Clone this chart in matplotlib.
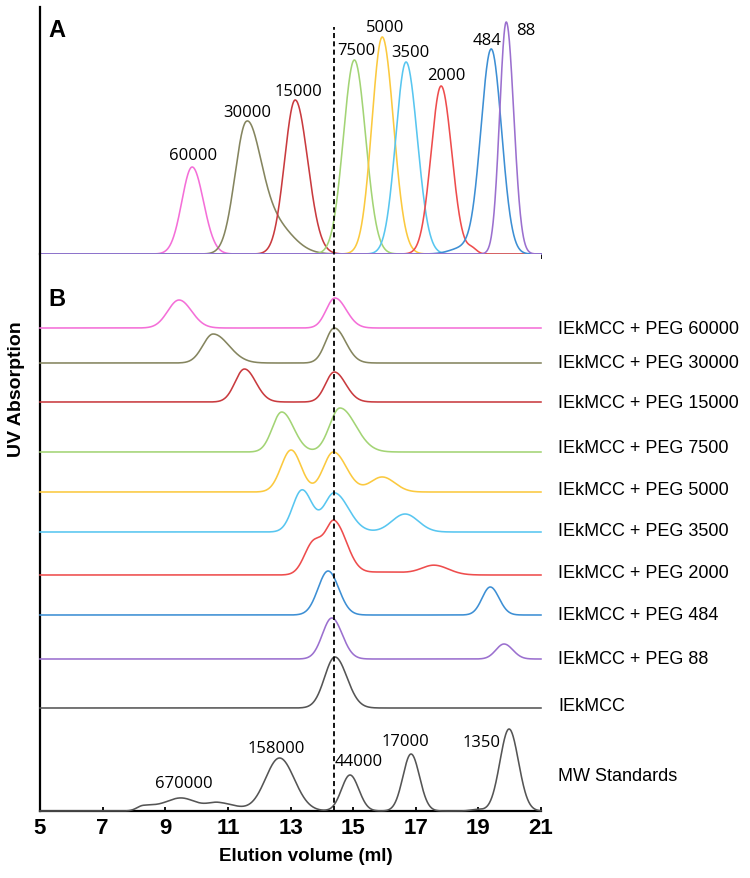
import numpy as np
import matplotlib.pyplot as plt

# elution volume axis (ml)
x_ticks = [5, 7, 9, 11, 13, 15, 17, 19, 21]
ref_volume = 14.4  # dashed line through the IEkMCC peak

# peaks are (centre ml, height, sigma left, sigma right), heights in arbitrary units
peg_names = ["60000", "30000", "15000", "7500", "5000", "3500", "2000", "484", "88"]
peg_colors = ["#f46fd8", "#85855f", "#c93b3f", "#a3d475", "#fbc93f",
              "#58c6f0", "#ee4d4d", "#3d8fd4", "#9b70cf"]

# panel A - PEG standards alone
a_60000 = [(9.86, 87, 0.33, 0.36)]
a_30000 = [(11.58, 122, 0.36, 0.45), (12.45, 30, 0.6, 0.6)]
a_15000 = [(13.15, 154, 0.34, 0.40)]
a_7500 = [(15.04, 194, 0.35, 0.36)]
a_5000 = [(15.93, 217, 0.33, 0.36)]
a_3500 = [(16.69, 192, 0.33, 0.36)]
a_2000 = [(17.81, 168, 0.32, 0.34), (18.80, 5, 0.15, 0.15)]
a_484 = [(19.41, 205, 0.33, 0.33), (18.50, 6, 0.4, 0.3)]
a_88 = [(19.89, 232, 0.21, 0.24)]

# panel B - IEkMCC mixed with each PEG, plus MW standards
b_names = ["IEkMCC + PEG 60000", "IEkMCC + PEG 30000", "IEkMCC + PEG 15000",
           "IEkMCC + PEG 7500", "IEkMCC + PEG 5000", "IEkMCC + PEG 3500",
           "IEkMCC + PEG 2000", "IEkMCC + PEG 484", "IEkMCC + PEG 88",
           "IEkMCC", "MW Standards"]
b_colors = peg_colors + ["#555555", "#555555"]
b_60000 = [(9.44, 28, 0.36, 0.40), (14.42, 30, 0.28, 0.36)]
b_30000 = [(10.53, 29, 0.33, 0.50), (14.40, 35, 0.28, 0.36)]
b_15000 = [(11.53, 33, 0.30, 0.36), (14.40, 30, 0.28, 0.36)]
b_7500 = [(12.72, 40, 0.30, 0.38), (14.58, 44, 0.33, 0.50)]
b_5000 = [(13.02, 42, 0.32, 0.32), (14.37, 40, 0.32, 0.42), (15.93, 15, 0.38, 0.40)]
b_3500 = [(13.37, 42, 0.30, 0.32), (14.40, 39, 0.32, 0.45), (16.66, 18, 0.42, 0.42)]
b_2000 = [(13.75, 33, 0.30, 0.32), (14.42, 50, 0.27, 0.38), (16.0, 3, 1.0, 1.0),
          (17.60, 9, 0.40, 0.45)]
b_484 = [(14.20, 44, 0.32, 0.34), (19.38, 28, 0.26, 0.28)]
b_88 = [(14.32, 41, 0.30, 0.33), (19.82, 15, 0.26, 0.28)]
b_ie = [(14.42, 51, 0.33, 0.38)]
b_mw = [(8.30, 5, 0.20, 0.40), (9.50, 13, 0.50, 0.50), (10.70, 8, 0.35, 0.55),
        (12.65, 53, 0.45, 0.47), (14.90, 36, 0.27, 0.28), (16.85, 57, 0.26, 0.27),
        (18.95, 1.5, 0.2, 0.2), (19.98, 82, 0.29, 0.30)]
mw_labels = ["670000", "158000", "44000", "17000", "1350"]
mw_label_peaks = [9.50, 12.65, 14.90, 16.85, 19.98]

# stacking of panel B traces (baseline heights) and right-hand label heights
b_offset = [483, 448, 409, 359, 319, 279, 236, 196, 152, 103, 0]
b_label_y = [483, 448, 409, 363, 321, 280, 238, 197, 152, 105, 35]

a_traces = [a_60000, a_30000, a_15000, a_7500, a_5000, a_3500, a_2000, a_484, a_88]
b_traces = [b_60000, b_30000, b_15000, b_7500, b_5000, b_3500, b_2000,
            b_484, b_88, b_ie, b_mw]

# label nudges in pixels (dx, dy) relative to peak top
a_label_shift = [(1, 12), (1, 10), (3, 9), (2, 10), (3, 10), (4, 10), (5, 11), (-4, 9), (20, -8)]
mw_label_shift = [(3, 15), (-3, 10), (9, 14), (-6, 13), (-28, -13)]


def trace(x, peaks):
    y = np.zeros_like(x)
    for c, h, sl, sr in peaks:
        s = np.where(x < c, sl, sr)
        y += h * np.exp(-0.5 * ((x - c) / s) ** 2)
    return y


x = np.linspace(5, 21, 1601)
px = 72 / 100  # points per pixel

fig = plt.figure(figsize=(7.5, 8.79), dpi=100)
ax_a = fig.add_axes([40 / 750, 624 / 879, 501 / 750, 247 / 879])
ax_b = fig.add_axes([40 / 750, 67 / 879, 501 / 750, 557 / 879])

# ---- panel A
for peaks, col, name, (dx, dy) in zip(a_traces, peg_colors, peg_names, a_label_shift):
    ax_a.plot(x, trace(x, peaks), color=col, lw=1.15, clip_on=False, zorder=3)
    c = peaks[0][0]
    h = trace(np.array([c]), peaks)[0]
    ax_a.annotate(name, (c, h), xytext=(dx * px, dy * px), textcoords="offset points",
                  ha="center", va="center", fontsize=12, family="Open Sans")
ax_a.axvline(ref_volume, ymin=0, ymax=227 / 247, color="black", lw=1.3,
             linestyle=(0, (2.8, 1.8)), zorder=4)
ax_a.set_xlim(5, 21)
ax_a.set_ylim(0, 247)
ax_a.set_xticks(x_ticks)
ax_a.set_yticks([])
ax_a.tick_params(axis="x", direction="out", length=3.5, width=1.3, labelbottom=False)
for s in ["top", "right"]:
    ax_a.spines[s].set_visible(False)
ax_a.spines["left"].set_linewidth(1.6)
ax_a.spines["bottom"].set_linewidth(1.2)

# ---- panel B
for peaks, col, off in zip(b_traces, b_colors, b_offset):
    ax_b.plot(x, off + trace(x, peaks), color=col, lw=1.15, clip_on=False, zorder=3)
for name, ly in zip(b_names, b_label_y):
    ax_b.text(1.034, ly, name, transform=ax_b.get_yaxis_transform(),
              ha="left", va="center", fontsize=13, family="Liberation Sans")
for lab, c, (dx, dy) in zip(mw_labels, mw_label_peaks, mw_label_shift):
    h = trace(np.array([c]), b_mw)[0]
    ax_b.annotate(lab, (c, h), xytext=(dx * px, dy * px), textcoords="offset points",
                  ha="center", va="center", fontsize=12, family="Open Sans")
ax_b.axvline(ref_volume, color="black", lw=1.3, linestyle=(0, (2.8, 1.8)), zorder=4)
ax_b.set_xlim(5, 21)
ax_b.set_ylim(0, 557)
ax_b.set_xticks(x_ticks)
ax_b.set_yticks([])
ax_b.tick_params(axis="x", direction="in", length=3, width=1.3, pad=4, labelsize=16)
for lbl in ax_b.get_xticklabels():
    lbl.set_fontweight("bold")
    lbl.set_family("Liberation Sans")
for s in ["top", "right"]:
    ax_b.spines[s].set_visible(False)
ax_b.spines["left"].set_linewidth(1.6)
ax_b.spines["bottom"].set_linewidth(1.6)
ax_b.set_xlabel("Elution volume (ml)", fontsize=13.5, fontweight="bold",
                family="Liberation Sans")
ax_b.xaxis.set_label_coords(0.531, -0.064)

fig.text(48 / 750, 1 - 30.5 / 879, "A", fontsize=17, fontweight="bold",
         family="Liberation Sans", ha="left", va="center")
fig.text(48 / 750, 1 - 299 / 879, "B", fontsize=17, fontweight="bold",
         family="Liberation Sans", ha="left", va="center")
fig.text(16.5 / 750, 1 - 389 / 879, "UV Absorption", fontsize=14, fontweight="bold",
         family="Liberation Sans", rotation=90, ha="center", va="center")

fig.savefig("out.png", dpi=100)
